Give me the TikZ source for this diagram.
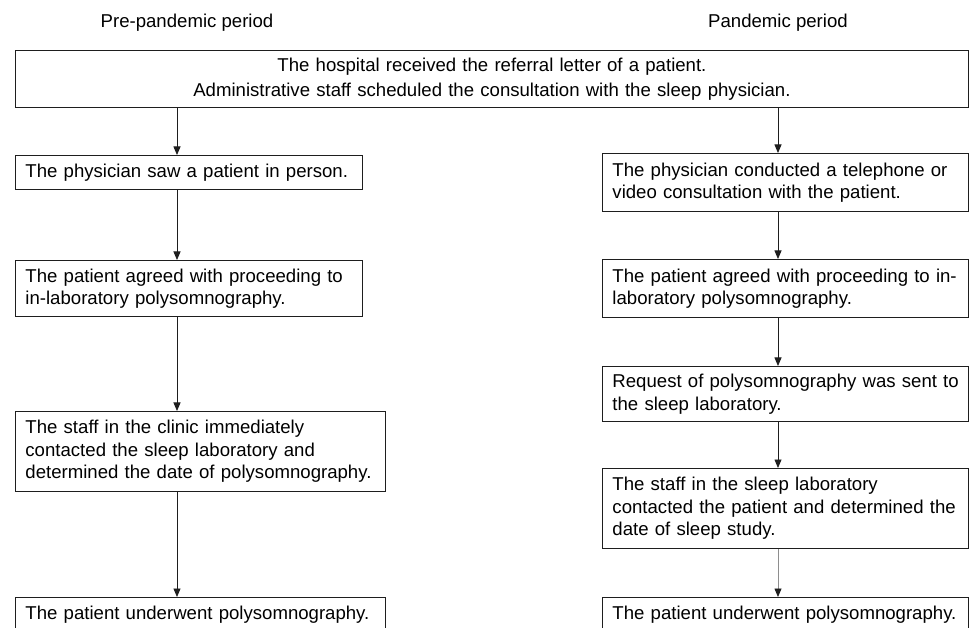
\documentclass[tikz,border=0pt]{standalone}
\usepackage{fontspec}
\setmainfont{Liberation Sans}
\usepackage{xcolor}
\usetikzlibrary{arrows.meta}
\definecolor{edge}{HTML}{1E1E1E}
\definecolor{txt}{HTML}{000000}
\tikzset{
  box/.style={draw=edge, line width=0.9pt, rectangle, anchor=north west,
    inner xsep=10pt, inner ysep=0pt, align=left, text=txt,
    font=\fontsize{18.6}{22.5}\selectfont},
  topbox/.style={box, align=center, font=\fontsize{18.6}{25}\selectfont},
  hdr/.style={text=txt, font=\fontsize{18.6}{22.5}\selectfont},
  arr/.style={draw=edge, line width=0.8pt, -{Triangle[width=7pt,length=8.5pt]}},
}

\begin{document}
\begin{tikzpicture}[x=1pt, y=-1pt]
  \useasboundingbox (0,0) rectangle (970,628);
  \clip (0,0) rectangle (970,628);
  \coordinate (lx) at (177,0);
  \coordinate (rx) at (778,0);
  % headings
  \node[hdr] (hpre) at (187,23) {Pre-pandemic period};
  \node[hdr] (hpan) at (778,23) {Pandemic period};
  % common first step
  \node[topbox, text width=933pt, minimum height=57pt] (top) at (15,50)
    {The hospital received the referral letter of a patient.\\
     Administrative staff scheduled the consultation with the sleep physician.};
  % pre-pandemic column
  \node[box, text width=327pt, minimum height=34pt] (L1) at (15,155)
    {The physician saw a patient in person.};
  \node[box, text width=327pt, minimum height=56pt] (L2) at (15,260)
    {The patient agreed with proceeding to\\ in-laboratory polysomnography.};
  \node[box, text width=350pt, minimum height=80pt] (L3) at (15,411)
    {The staff in the clinic immediately\\ contacted the sleep laboratory and\\
     \mbox{determined the date of polysomnography.}};
  \node[box, text width=350pt, minimum height=34pt] (L4) at (15,597)
    {The patient underwent polysomnography.};
  % pandemic column
  \node[box, text width=346pt, minimum height=58pt] (R1) at (602,153)
    {\mbox{The physician conducted a telephone or}\\ video consultation with the patient.};
  \node[box, text width=346pt, minimum height=58pt] (R2) at (602,259)
    {\mbox{The patient agreed with proceeding to in-}\\ laboratory polysomnography.};
  \node[box, text width=346pt, minimum height=55pt] (R3) at (602,366)
    {\mbox{Request of polysomnography was sent to}\\ the sleep laboratory.};
  \node[box, text width=346pt, minimum height=80pt] (R4) at (602,468)
    {The staff in the sleep laboratory\\
     \mbox{contacted the patient and determined the}\\ date of sleep study.};
  \node[box, text width=346pt, minimum height=34pt] (R5) at (602,597)
    {The patient underwent polysomnography.};
  % arrows
  \draw[arr] (top.south -| lx) -- (L1.north -| lx);
  \draw[arr] (L1.south -| lx) -- (L2.north -| lx);
  \draw[arr] (L2.south -| lx) -- (L3.north -| lx);
  \draw[arr] (L3.south -| lx) -- (L4.north -| lx);
  \draw[arr] (top.south -| rx) -- (R1.north -| rx);
  \draw[arr] (R1.south -| rx) -- (R2.north -| rx);
  \draw[arr] (R2.south -| rx) -- (R3.north -| rx);
  \draw[arr] (R3.south -| rx) -- (R4.north -| rx);
  \draw[arr, draw=edge!50, -{Triangle[width=7pt,length=8.5pt,color=edge]}]
    (R4.south -| rx) -- (R5.north -| rx);
\end{tikzpicture}
\end{document}
